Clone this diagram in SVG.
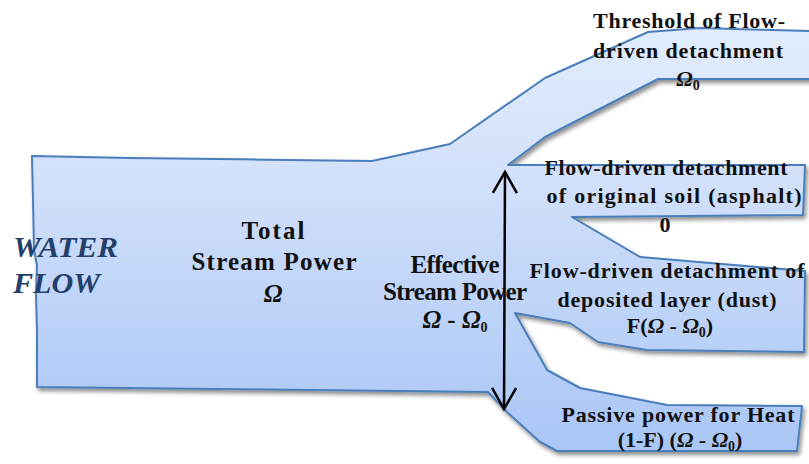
<svg xmlns="http://www.w3.org/2000/svg" width="809" height="464" viewBox="0 0 809 464">
  <defs>
    <linearGradient id="flowFill" gradientUnits="userSpaceOnUse" x1="0" y1="28" x2="0" y2="452">
      <stop offset="0" stop-color="#e2ecfc"/>
      <stop offset="0.35" stop-color="#d2e0fa"/>
      <stop offset="1" stop-color="#a9c6f6"/>
    </linearGradient>
    <filter id="shadow" x="-5%" y="-5%" width="110%" height="115%">
      <feDropShadow dx="2" dy="3" stdDeviation="2" flood-color="#000" flood-opacity="0.45"/>
    </filter>
    <marker id="openHead" markerUnits="userSpaceOnUse" markerWidth="30" markerHeight="30" viewBox="-25 -15 30 30" refX="0" refY="0" orient="auto-start-reverse">
      <path d="M -21 -12 L 0 0 L -21 12" fill="none" stroke="#000" stroke-width="2.5"/>
    </marker>
    <style>
      .lbl { font-family: "Liberation Serif", "Times New Roman", serif; font-weight: bold; fill: #111; text-anchor: middle; }
      .main { font-size: 25px; }
      .branch { font-size: 22px; }
      .sym { font-style: italic; }
      .sub { font-size: 14px; font-style: normal; }
      .water { font-family: "Liberation Serif", "Times New Roman", serif; font-weight: bold; font-style: italic; font-size: 29px; fill: #233f6b; }
    </style>
  </defs>

  <!-- stream body: trunk with four outgoing branches -->
  <g id="stream">
    <path filter="url(#shadow)" fill="url(#flowFill)" stroke="#4a7ebb" stroke-width="2" stroke-linejoin="round"
      d="M 32 156 L 130 158 L 372 161 L 450 144 L 545 78 L 648 32 L 700 28 L 809 31 L 815 31 L 815 79 L 809 79
         L 658 79 L 545 137 L 508 165 L 805 165 L 803 215 L 572 217 L 640 257 L 805 271 L 804 352
         L 647 350 L 598 342 L 570 323 L 515 313 L 547 370 L 580 388 L 667 405 L 802 406 L 797 451
         L 557 451 L 540 442 L 507 412 L 488 392 L 37 387 L 37 330 L 36 295 L 37 265 L 34 250 L 33 200 Z"/>
  </g>

  <g id="water-flow">
    <text class="water" x="13" y="257" textLength="105" lengthAdjust="spacingAndGlyphs">WATER</text>
    <text class="water" x="13" y="293" textLength="87" lengthAdjust="spacingAndGlyphs">FLOW</text>
  </g>

  <g id="total-power" class="lbl main">
    <text x="273" y="239" textLength="63">Total</text>
    <text x="274" y="270" textLength="165">Stream Power</text>
    <text x="273" y="302" class="sym">Ω</text>
  </g>

  <g id="effective-power" class="lbl main">
    <text x="455" y="273" textLength="89">Effective</text>
    <text x="455" y="300" textLength="144">Stream Power</text>
    <text x="455" y="328"><tspan class="sym">Ω</tspan> - <tspan class="sym">Ω</tspan><tspan class="sub" dy="4">0</tspan></text>
  </g>

  <g id="threshold" class="lbl branch">
    <text x="689" y="28" textLength="192">Threshold of Flow-</text>
    <text x="688" y="58" textLength="190">driven detachment</text>
    <text x="688" y="86"><tspan class="sym">Ω</tspan><tspan class="sub" dy="4">0</tspan></text>
  </g>

  <g id="original-soil" class="lbl branch">
    <text x="666" y="175" textLength="243">Flow-driven detachment</text>
    <text x="674" y="203" textLength="255">of original soil (asphalt)</text>
    <text x="665" y="232">0</text>
  </g>

  <g id="deposited-layer" class="lbl branch">
    <text x="667" y="278" textLength="275">Flow-driven detachment of</text>
    <text x="667" y="307" textLength="219">deposited layer (dust)</text>
    <text x="670" y="333">F(<tspan class="sym">Ω</tspan> - <tspan class="sym">Ω</tspan><tspan class="sub" dy="4">0</tspan><tspan dy="-4">)</tspan></text>
  </g>

  <g id="passive-heat" class="lbl branch">
    <text x="678" y="422" textLength="233">Passive power for Heat</text>
    <text x="680" y="447">(1-F) (<tspan class="sym">Ω</tspan> - <tspan class="sym">Ω</tspan><tspan class="sub" dy="4">0</tspan><tspan dy="-4">)</tspan></text>
  </g>

  <!-- connector: span of the effective stream power -->
  <g id="connectors">
    <line x1="505" y1="172" x2="504" y2="409" stroke="#000" stroke-width="2.5" marker-start="url(#openHead)" marker-end="url(#openHead)"/>
  </g>
</svg>
